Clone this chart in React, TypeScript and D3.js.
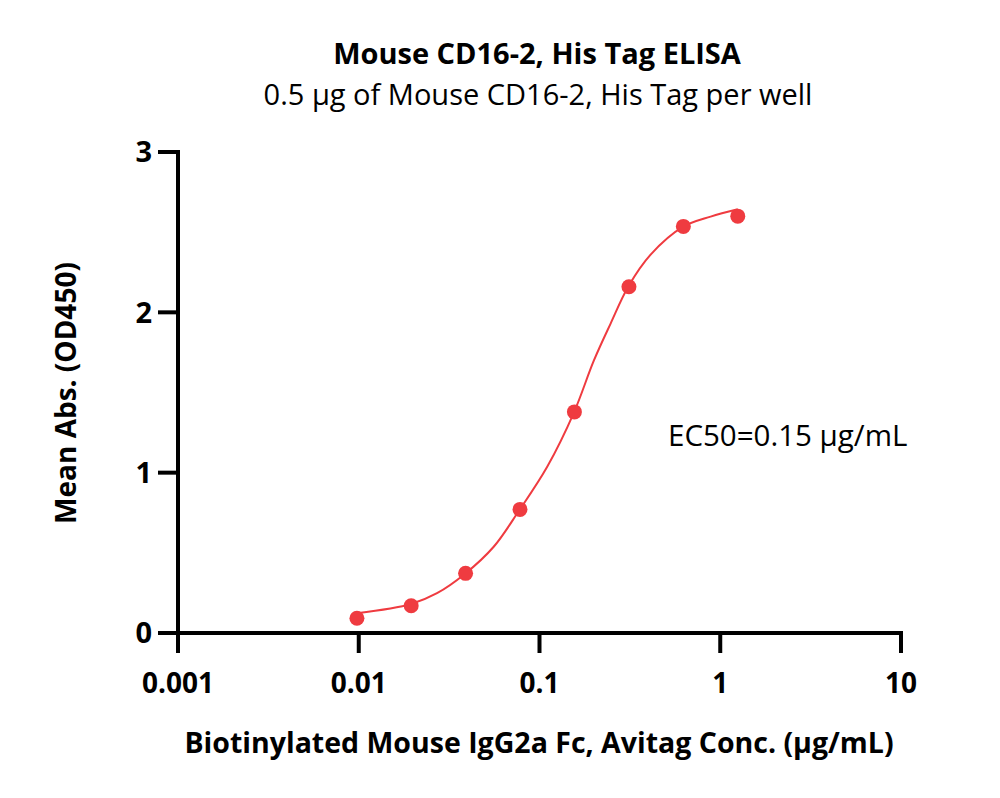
import React from "react";
import * as d3 from "d3";

// concentrations (µg/mL) and mean OD450
const conc = [0.00977, 0.0195, 0.039, 0.078, 0.156, 0.3125, 0.625, 1.25];
const meanAbs = [0.092, 0.17, 0.372, 0.771, 1.379, 2.16, 2.536, 2.6];

// fitted curve, points
const fitConc = [
  0.00977, 0.0195, 0.0271, 0.0386, 0.0558, 0.0768, 0.1103, 0.155, 0.2, 0.2474,
  0.31, 0.412, 0.625, 0.885, 1.25,
];
const fitAbs = [
  0.123, 0.181, 0.248, 0.368, 0.538, 0.761, 1.037, 1.375, 1.70, 1.93, 2.161,
  2.36, 2.534, 2.597, 2.643,
];

const xTicks = [0.001, 0.01, 0.1, 1, 10];
const xTickLabels = ["0.001", "0.01", "0.1", "1", "10"];
const yTicks = [0, 1, 2, 3];

const title = "Mouse CD16-2, His Tag ELISA";
const subtitle = "0.5 μg of Mouse CD16-2, His Tag per well";
const xTitle = "Biotinylated Mouse IgG2a Fc, Avitag Conc. (μg/mL)";
const yTitle = "Mean Abs. (OD450)";
const ec50Label = "EC50=0.15 μg/mL";

const W = 1000;
const H = 798;
const red = "#EF3B40";
const font = "'Open Sans', 'Noto Sans', sans-serif";

export default function App() {
  const x = d3.scaleLog().domain([0.001, 10]).range([178, 901]);
  const y = d3.scaleLinear().domain([0, 3]).range([633, 152]);

  const line = d3
    .line<number>()
    .x((_, i) => x(fitConc[i]))
    .y((v) => y(v))
    .curve(d3.curveCatmullRom.alpha(0.5));

  return (
    <svg
      width={W}
      height={H}
      style={{ position: "absolute", left: 0, top: 0, background: "#fff" }}
      fontFamily={font}
    >
      <text x={537} y={64} textAnchor="middle" fontSize={29} fontWeight="bold">
        {title}
      </text>
      <text x={538} y={105} textAnchor="middle" fontSize={29}>
        {subtitle}
      </text>

      {/* y axis */}
      <line x1={178} x2={178} y1={y(3) - 2} y2={653} stroke="#000" strokeWidth={4} />
      {yTicks.map((t) => (
        <g key={t}>
          <line x1={158} x2={178} y1={y(t)} y2={y(t)} stroke="#000" strokeWidth={4} />
          <text
            x={152}
            y={y(t)}
            dy="0.36em"
            textAnchor="end"
            fontSize={29}
            fontWeight="bold"
          >
            {t}
          </text>
        </g>
      ))}

      {/* x axis */}
      <line x1={176} x2={x(10) + 2} y1={633} y2={633} stroke="#000" strokeWidth={4} />
      {xTicks.map((t, i) => (
        <g key={t}>
          <line x1={x(t)} x2={x(t)} y1={633} y2={653} stroke="#000" strokeWidth={4} />
          <text
            x={x(t)}
            y={693}
            textAnchor="middle"
            fontSize={28}
            fontWeight="bold"
          >
            {xTickLabels[i]}
          </text>
        </g>
      ))}

      <text x={539} y={753} textAnchor="middle" fontSize={28.5} fontWeight="bold">
        {xTitle}
      </text>
      <text
        transform={`translate(76,393) rotate(-90)`}
        textAnchor="middle"
        fontSize={28}
        fontWeight="bold"
      >
        {yTitle}
      </text>

      <path d={line(fitAbs) ?? ""} fill="none" stroke={red} strokeWidth={2} />
      {conc.map((c, i) => (
        <circle key={c} cx={x(c)} cy={y(meanAbs[i])} r={7.5} fill={red} />
      ))}

      <text x={668} y={446} fontSize={29.5}>
        {ec50Label}
      </text>
    </svg>
  );
}
